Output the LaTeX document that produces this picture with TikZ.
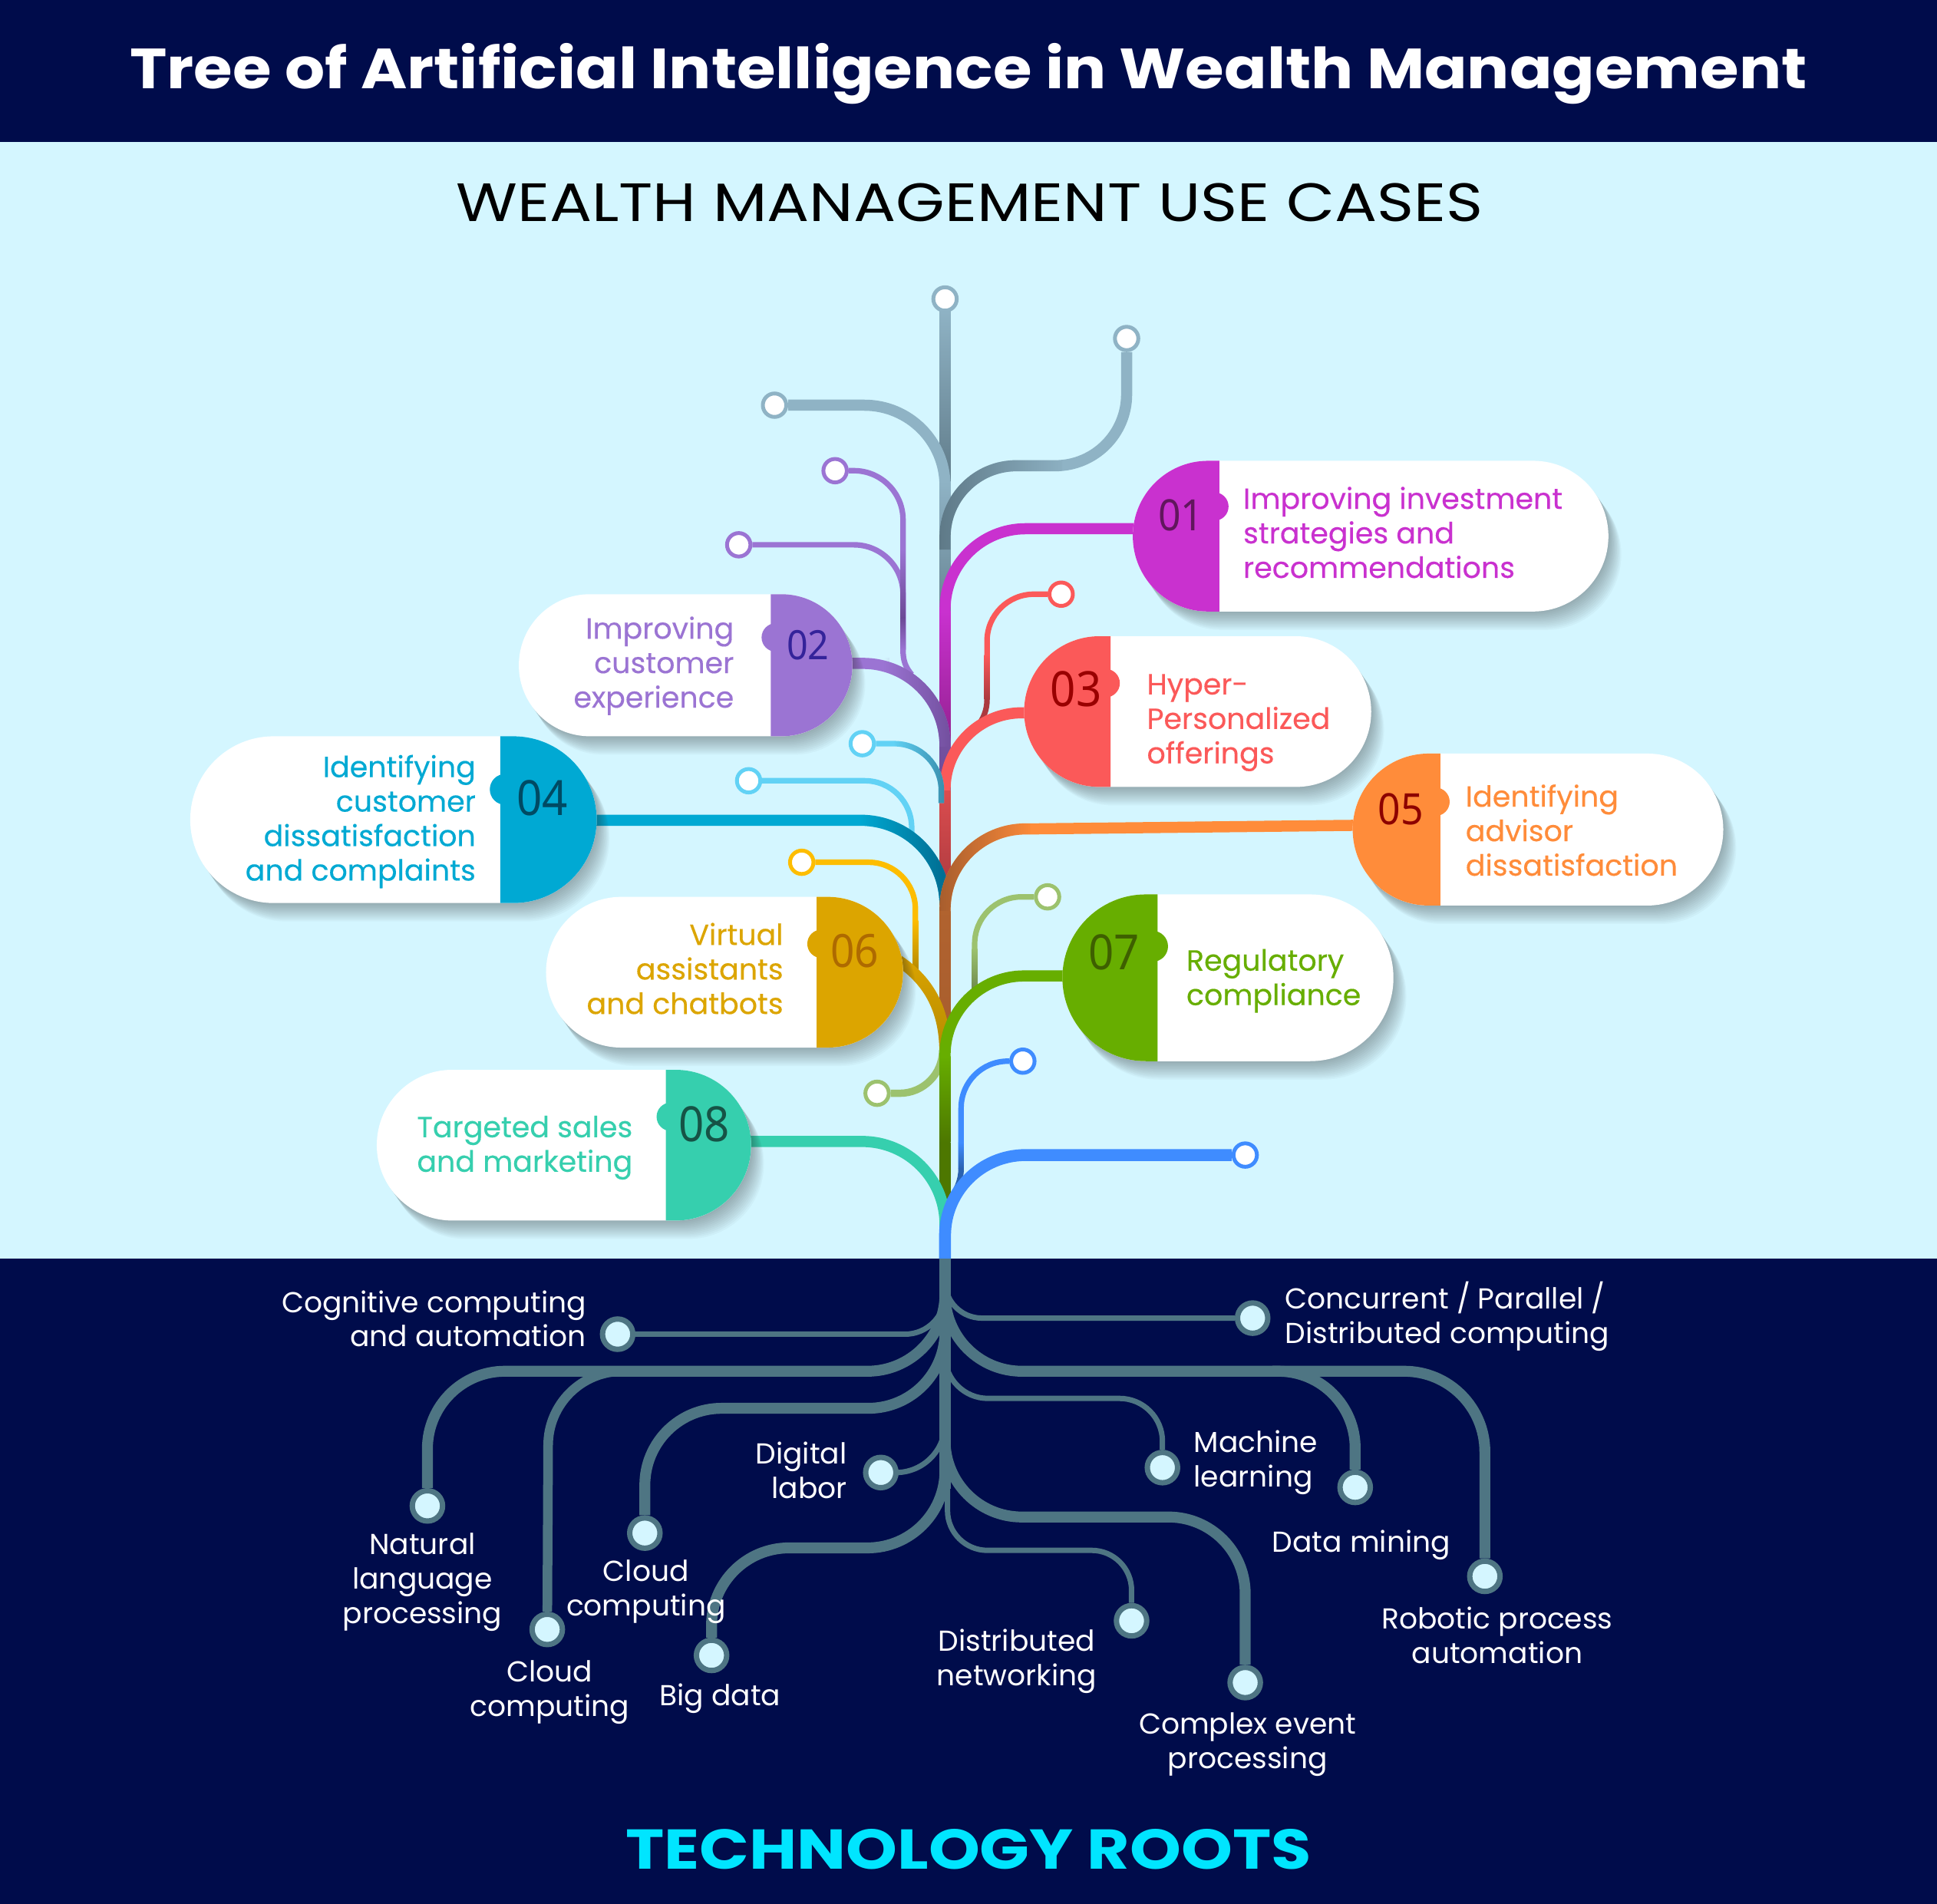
\documentclass[tikz,border=0pt]{standalone}
\usepackage{fontspec}
\setmainfont{Poppins}
\newfontfamily\numfont[FakeStretch=0.92]{Noto Sans}
\newfontfamily\titlefont[FakeStretch=1.11]{Poppins}
\newfontfamily\headfont[FakeStretch=1.164]{Poppins}
\newfontfamily\cardfont[FakeBold=0.25]{Poppins}
\usetikzlibrary{shapes.misc,shadows,fadings}
\definecolor{navy}{HTML}{000C4B}
\definecolor{sky}{HTML}{D4F6FF}
\definecolor{rootc}{HTML}{4E7583}
\definecolor{greyb}{HTML}{8FB3C5}
\definecolor{greyd}{HTML}{5F7A88}
\definecolor{magc}{HTML}{C931CF}
\definecolor{magd}{HTML}{8A1F85}
\definecolor{purc}{HTML}{9B74D3}
\definecolor{purd}{HTML}{6C4A96}
\definecolor{redc}{HTML}{FB5959}
\definecolor{redd}{HTML}{AB3A3F}
\definecolor{tealc}{HTML}{00A9D3}
\definecolor{teald}{HTML}{006A8E}
\definecolor{lbluec}{HTML}{62D2F5}
\definecolor{lblued}{HTML}{3A8FAE}
\definecolor{oranc}{HTML}{FF8C3A}
\definecolor{orand}{HTML}{A85E2E}
\definecolor{goldc}{HTML}{DCA500}
\definecolor{goldd}{HTML}{B58A00}
\definecolor{yelc}{HTML}{FDBD00}
\definecolor{grnc}{HTML}{67AE00}
\definecolor{grnd}{HTML}{4D7700}
\definecolor{lgrnc}{HTML}{9CC26E}
\definecolor{lgrnd}{HTML}{6F8A4D}
\definecolor{mintc}{HTML}{36CFAE}
\definecolor{bluec}{HTML}{3F8CFF}
\definecolor{blued}{HTML}{2A62B0}
\definecolor{rootsc}{HTML}{00E5FF}
\tikzset{
    tip/.style={circle,fill=white,draw=#1,line width=0.5mm,minimum size=3.05mm,inner sep=0},
    rootdot/.style={circle,fill=sky,draw=rootc,line width=0.7mm,minimum size=3.95mm,inner sep=0},
    limb/.style={line width=1.45mm},
    twig/.style={line width=0.72mm},
    thickroot/.style={rootc,line width=1.42mm},
    thinroot/.style={rootc,line width=0.7mm},
    shadestep/.style={drop shadow={shadow xshift=#1*0.7mm,shadow yshift=-#1*1mm,opacity=.03,fill=black!85}},
    pill/.style 2 args={rounded rectangle,fill=white,inner sep=0,outer sep=0,
      minimum width=#1*0.16097mm,minimum height=#2*0.16097mm,
      shadestep/.list={0.2,0.4,...,2.4}},
    lefttxt/.style={anchor=west,align=left,inner sep=0,font=\cardfont\fontsize{10.8}{12.78}\selectfont},
    righttxt/.style={anchor=east,align=right,inner sep=0,font=\cardfont\fontsize{10.8}{12.78}\selectfont},
    rootlbl/.style={align=center,inner sep=0,text=white,font=\fontsize{10.7}{12.78}\selectfont},
    numtxt/.style={inner sep=0,font=\numfont\fontsize{#1}{#1}\selectfont},
}
\begin{document}
\begin{tikzpicture}[x=0.16097mm,y=-0.16097mm]
\useasboundingbox (0,0) rectangle (1568,1541);
\fill[navy] (0,0) rectangle (1568,115);
\fill[sky] (0,115) rectangle (1568,1019);
\fill[navy] (0,1019) rectangle (1568,1541);

\node[text=white,inner sep=0,font=\titlefont\bfseries\fontsize{21}{21}\selectfont] (title) at (784,59.5) {Tree of Artificial Intelligence in Wealth Management};
\node[text=black,inner sep=0,font=\headfont\fontsize{20}{20}\selectfont] (usecases) at (785,164) {WEALTH MANAGEMENT USE CASES};
\node[text=rootsc,inner sep=0,font=\headfont\bfseries\fontsize{20.8}{21}\selectfont] (roots) at (784,1497) {TECHNOLOGY ROOTS};

%tips
\node[tip=greyb] (G1) at (765,242) {};
\node[tip=greyb] (G2) at (912,274) {};
\node[tip=greyb] (G3) at (627,328) {};
\node[tip=purc] (V1) at (676,381) {};
\node[tip=purc] (V2) at (598,441) {};
\node[tip=redc] (R1) at (859,481) {};
\node[tip=lbluec] (L1) at (698,602) {};
\node[tip=lbluec] (L2) at (606,632) {};
\node[tip=yelc] (Y1) at (649,698) {};
\node[tip=lgrnc] (K1) at (848,726) {};
\node[tip=lgrnc] (K2) at (710,885) {};
\node[tip=bluec] (B1) at (828,859) {};
\node[tip=bluec] (B2) at (1008,935) {};

%card ends of the limbs
\coordinate(P1) at (925,428);
\coordinate(P2) at (680,537);
\coordinate(P3) at (835,577);
\coordinate(P4) at (475,664);
\coordinate(P5) at (1105,668);
\coordinate(P6) at (725,776);
\coordinate(P7) at (868,790);
\coordinate(P8) at (600,924);
%ends of the curved twigs
\coordinate(Q1) at (731,526);
\coordinate(Q2) at (799,566);
\coordinate(Q3) at (778,946);

%grey crown
\shade[top color=greyb,bottom color=greyd] (760.5,250) rectangle (769.5,395);
\draw[limb,greyb,rounded corners=10.5mm] (G3) -- (765,328) -- (765,395);
\shade[top color=greyb,bottom color=greyd] (760.5,390) rectangle (769.5,520);
\draw[limb,greyb,rounded corners=9.3mm] (G2) -- (912,377) -- (765,377) -- (765,445);
\draw[limb,greyd,rounded corners=9.3mm,path fading=east] (860,377) -- (765,377) -- (765,445);

%magenta
\draw[limb,magc,rounded corners=10.5mm] (P1) -- (765,428) -- (765,500);
\shade[top color=magc,bottom color=magd] (760.5,495) rectangle (769.5,620);

%purple
\draw[twig,purc,rounded corners=6.4mm] (V1) -- (731,381) -- (Q1);
\draw[twig,purc,rounded corners=6.4mm] (V2) -- (731,441) -- (Q1);
\draw[twig,purc] (Q1) .. controls (731,535) and (733,540) .. (738,546);
\shade[top color=purc,bottom color=purd] (729,445) rectangle (733,500);
\shade[top color=purd,bottom color=purc] (729,500) rectangle (733,526);
\draw[limb,purc,rounded corners=10.7mm] (P2) -- (765,537) -- (765,610);
\draw[limb,purd!85!purc,rounded corners=10.7mm,path fading=west] (720,537) -- (765,537) -- (765,610);
\shade[top color=purd!85!purc,bottom color=purd] (760.5,605) rectangle (769.5,650);

%red
\draw[twig,redc,rounded corners=6.1mm] (R1) -- (799,481) -- (Q2);
\shade[top color=redc,bottom color=redd] (796.8,530) rectangle (801.2,566);
\draw[twig,redd] (Q2) .. controls (799,575) and (796,582) .. (791,588);
\draw[limb,redc,rounded corners=10mm] (P3) -- (765,577) -- (765,650);
\shade[top color=redc!60!redd,bottom color=redd] (760.5,640) rectangle (769.5,725);

%blue-green
\draw[twig,lbluec,rounded corners=6.1mm] (L1) -- (762,602) -- (762,650);
\draw[twig,lblued,rounded corners=6.1mm,path fading=west] (725,602) -- (762,602) -- (762,650);
\draw[twig,lbluec,rounded corners=6.1mm] (L2) -- (738,632) -- (738,678);
\draw[limb,tealc,rounded corners=11mm] (P4) -- (765,664) -- (765,730);
\draw[limb,teald,rounded corners=11mm,path fading=west] (700,664) -- (765,664) -- (765,730);

%orange
\draw[limb,oranc] (P5) -- (834,671) [rounded corners=10.5mm] -- (765,671) -- (765,745);
\draw[limb,orand,rounded corners=10.5mm,path fading=east] (834,671) -- (765,671) -- (765,745);
\shade[top color=orand!90!oranc,bottom color=orand] (760.5,738) rectangle (769.5,840);

%gold
\draw[twig,yelc,rounded corners=6.1mm] (Y1) -- (741,698) -- (741,785);
\shade[top color=yelc,bottom color=goldd] (738.8,745) rectangle (743.2,785);
\draw[limb,goldc] (P6) .. controls (750,792) and (765,815) .. (765,852);
\draw[limb,goldd,path fading=north] (P6) .. controls (750,792) and (765,815) .. (765,852);

%green
\draw[twig,lgrnc,rounded corners=6.1mm] (K1) -- (789,726) -- (789,802);
\shade[top color=lgrnc,bottom color=lgrnd] (786.8,768) rectangle (791.2,802);
\draw[twig,lgrnc,line width=0.95mm,rounded corners=5.6mm] (K2) -- (763,885) -- (763,850);
\draw[limb,grnc,rounded corners=10.3mm] (P7) -- (765,790) -- (765,865);
\shade[top color=grnc,bottom color=grnd] (760.5,855) rectangle (769.5,925);
\fill[grnd] (760.5,925) rectangle (769.5,975);

%blue and mint
\draw[twig,bluec,rounded corners=6.1mm] (B1) -- (778,859) -- (Q3);
\shade[top color=bluec,bottom color=blued] (775.8,925) rectangle (780.2,946);
\draw[twig,blued] (Q3) .. controls (778,956) and (774,964) .. (768,972);
\draw[limb,mintc,rounded corners=10.8mm] (P8) -- (765,924) -- (765,1012);
\draw[limb,bluec,line width=1.55mm,rounded corners=10.5mm] (B2) -- (765,935) -- (765,1019);

%root tips
\node[rootdot] (r1) at (500,1080) {};
\node[rootdot] (r2) at (346,1219) {};
\node[rootdot] (r3) at (443,1319) {};
\node[rootdot] (r4) at (522,1241) {};
\node[rootdot] (r5) at (713,1192) {};
\node[rootdot] (r6) at (576,1340) {};
\node[rootdot] (r7) at (1014,1067) {};
\node[rootdot] (r8) at (941,1188) {};
\node[rootdot] (r9) at (1097,1204) {};
\node[rootdot] (r10) at (1202,1276) {};
\node[rootdot] (r11) at (916,1312) {};
\node[rootdot] (r12) at (1008,1362) {};

%roots
\draw[rootc,line width=1.45mm] (765,1019) -- (765,1205);
\draw[thinroot,rounded corners=5.2mm] (r1) -- (765,1080) -- (765,1030);
\draw[thickroot,rounded corners=10.1mm] (r2) -- (346,1110) -- (765,1110) -- (765,1036);
\draw[thickroot,line width=1.25mm,rounded corners=9.6mm] (r3) -- (444,1110) -- (530,1110);
\draw[thickroot,rounded corners=10mm] (r4) -- (522,1140) -- (765,1140) -- (765,1062);
\draw[thinroot,rounded corners=6.4mm] (r5) -- (765,1192) -- (765,1140);
\draw[thickroot,rounded corners=10.1mm] (r6) -- (576,1253) -- (765,1253) -- (765,1175);
\draw[thinroot,rounded corners=4.8mm] (r7) -- (765,1067) -- (765,1028);
\draw[thinroot,rounded corners=5.6mm] (r8) -- (941,1132) -- (765,1132) -- (765,1095);
\draw[thickroot,rounded corners=10mm] (r9) -- (1097,1110) -- (765,1110) -- (765,1036);
\draw[thickroot,rounded corners=10.5mm] (r10) -- (1202,1110) -- (1030,1110);
\draw[thinroot,rounded corners=5.2mm] (r11) -- (916,1255) -- (767,1255) -- (767,1190);
\draw[thickroot,rounded corners=10mm] (r12) -- (1008,1228) -- (765,1228) -- (765,1150);

%root labels
\node[rootlbl,anchor=east,align=right] (t1) at (475,1067.5) {Cognitive computing\\and automation};
\node[rootlbl] (t2) at (342,1281) {Natural\\language\\processing};
\node[rootlbl] (t3) at (445,1370) {Cloud\\computing};
\node[rootlbl] (t4) at (523,1288.5) {Cloud\\computing};
\node[rootlbl,anchor=east,align=right] (t5) at (686,1190) {Digital\\labor};
\node[rootlbl] (t6) at (583,1375) {Big data};
\node[rootlbl,anchor=west,align=left] (t7) at (1040,1065.5) {Concurrent / Parallel /\\Distributed computing};
\node[rootlbl,anchor=west,align=left] (t8) at (966,1184) {Machine\\learning};
\node[rootlbl] (t9) at (1102,1251) {Data mining};
\node[rootlbl] (t10) at (1212,1323.5) {Robotic process\\automation};
\node[rootlbl] (t11) at (823,1345) {Distributed\\networking};
\node[rootlbl] (t12) at (1010,1412) {Complex event\\processing};

%cards
\node[pill={385}{122}] (card1) at (1109.5,434) {};
\fill[magc] (987,373) -- (978,373) arc[start angle=270,end angle=90,radius=61] -- (987,495) -- cycle;
\fill[magc] (983,410) circle[radius=11.5];
\node[numtxt=16,text=magd!70!black] (n1) at (956,417) {01};
\node[lefttxt,text=magc] (c1) at (1006,431) {Improving investment\\strategies and\\recommendations};

\node[pill={270}{115}] (card2) at (555,538.5) {};
\fill[purc] (624,481) -- (632.5,481) arc[start angle=-90,end angle=90,radius=57.5] -- (624,596) -- cycle;
\fill[purc] (628,516) circle[radius=11.5];
\node[numtxt=15,text=purd!60!blue!80!black] (n2) at (654,522) {02};
\node[righttxt,text=purc] (c2) at (594.5,539) {Improving\\customer\\experience};

\node[pill={281}{122}] (card3) at (969.5,576) {};
\fill[redc] (899,515) -- (890,515) arc[start angle=270,end angle=90,radius=61] -- (899,637) -- cycle;
\fill[redc] (895,553) circle[radius=11.5];
\node[numtxt=18,text=red!60!black] (n3) at (871,558) {03};
\node[lefttxt,text=redc] (c3) at (928,585) {Hyper-\\Personalized\\offerings};

\node[pill={329}{135}] (card4) at (318.5,663.5) {};
\fill[tealc] (405,596) -- (415.5,596) arc[start angle=-90,end angle=90,radius=67.5] -- (405,731) -- cycle;
\fill[tealc] (409,639) circle[radius=12.5];
\node[numtxt=18,text=teald!70!black] (n4) at (439,646) {04};
\node[righttxt,text=tealc] (c4) at (385.5,665) {Identifying\\customer\\dissatisfaction\\and complaints};

\node[pill={300}{123}] (card5) at (1245,671.5) {};
\fill[oranc] (1166,610) -- (1156.5,610) arc[start angle=270,end angle=90,radius=61.5] -- (1166,733) -- cycle;
\fill[oranc] (1162,649) circle[radius=11.5];
\node[numtxt=16,text=red!55!black] (n5) at (1134,655) {05};
\node[lefttxt,text=oranc] (c5) at (1186,672) {Identifying\\advisor\\dissatisfaction};

\node[pill={289}{122}] (card6) at (586.5,787) {};
\fill[goldc] (661,726) -- (670,726) arc[start angle=-90,end angle=90,radius=61] -- (661,848) -- cycle;
\fill[goldc] (665,764) circle[radius=11.5];
\node[numtxt=17,text=goldd!50!orange!80!black] (n6) at (692,770) {06};
\node[righttxt,text=goldc] (c6) at (634.5,784) {Virtual\\assistants\\and chatbots};

\node[pill={268}{135}] (card7) at (994,791.5) {};
\fill[grnc] (937,724) -- (927.5,724) arc[start angle=270,end angle=90,radius=67.5] -- (937,859) -- cycle;
\fill[grnc] (933,766) circle[radius=12.5];
\node[numtxt=18,text=grnd!80!black] (n7) at (902,771) {07};
\node[lefttxt,text=grnc] (c7) at (960,794) {Regulatory\\compliance};

\node[pill={303}{122}] (card8) at (456.5,927) {};
\fill[mintc] (539,866) -- (547,866) arc[start angle=-90,end angle=90,radius=61] -- (539,988) -- cycle;
\fill[mintc] (543,904) circle[radius=11.5];
\node[numtxt=18,text=mintc!40!black] (n8) at (570,910) {08};
\node[righttxt,text=mintc] (c8) at (512.5,929) {Targeted sales\\and marketing};
\end{tikzpicture}
\end{document}
